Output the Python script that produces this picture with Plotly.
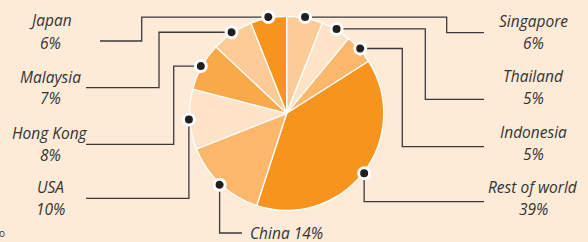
import math
import plotly.graph_objects as go

# ---- data ----
countries = ["Singapore", "Thailand", "Indonesia", "Rest of world", "China",
             "USA", "Hong Kong", "Malaysia", "Japan"]
shares = [6, 5, 5, 39, 14, 10, 8, 7, 6]

# ---- styles ----
slice_colors = ["#FDCB98", "#FEE3C8", "#FBB76C", "#F7941D", "#FBB76C",
                "#FEE3C8", "#F9A84A", "#FDCB98", "#F7941D"]
BG = "#FDEBD8"
TXT = "#333333"
LINE = "#3a3a3a"
FONT = "Open Sans"

W, H = 588, 242
CX, CY, R = 286.7, 113.3, 97.0
DOT_R = 98.0

fig = go.Figure()
fig.add_trace(go.Pie(
    labels=countries, values=shares, sort=False, direction="clockwise",
    rotation=0, textinfo="none", hoverinfo="label+percent",
    marker=dict(colors=slice_colors, line=dict(color="white", width=1.3)),
    domain=dict(x=[(CX - R) / W, (CX + R) / W],
                y=[(H - CY - R) / H, (H - CY + R) / H]),
    showlegend=False,
))

# dot positions from slice mid-angles
total = sum(shares)
dots = []
cum = 0
for v in shares:
    mid = (cum + v / 2) / total * 2 * math.pi
    dots.append((CX + DOT_R * math.sin(mid), CY - DOT_R * math.cos(mid)))
    cum += v

routes = {
    "Singapore": ("h", 446.7, 32.7, 484),
    "Thailand": ("h", 425.3, 99.3, 484),
    "Indonesia": ("h", 402.3, 146.7, 484),
    "Rest of world": ("v", None, 201.7, 484),
    "China": ("v", None, 233.0, 242),
    "USA": ("v", None, 198.3, 86),
    "Hong Kong": ("h", 173.7, 144.3, 86),
    "Malaysia": ("h", 159.0, 87.7, 86),
    "Japan": ("h", 141.7, 41.0, 100),
}

shapes = []
for name, (dx, dy) in zip(countries, dots):
    kind, ex, ey, endx = routes[name]
    if kind == "h":
        pts = [(dx, dy), (ex, dy), (ex, ey), (endx, ey)]
    else:
        pts = [(dx, dy), (dx, ey), (endx, ey)]
    path = "M " + " L ".join(f"{x:.2f},{y:.2f}" for x, y in pts)
    shapes.append(dict(type="path", path=path, xref="x", yref="y",
                       line=dict(color=LINE, width=1.3), layer="above"))
for dx, dy in dots:
    r = 5.5
    shapes.append(dict(type="circle", xref="x", yref="y",
                       x0=dx - r, x1=dx + r, y0=dy - r, y1=dy + r,
                       fillcolor="#231F20", line=dict(color="white", width=3),
                       layer="above"))

label_pos = {
    "Singapore": (533, 20.7, 42.7),
    "Thailand": (533, 76.0, 98.3),
    "Indonesia": (533, 132.3, 154.3),
    "Rest of world": (533, 186.7, 209.3),
    "USA": (50, 187.3, 209.0),
    "Hong Kong": (50, 132.7, 155.0),
    "Malaysia": (50, 76.7, 98.3),
    "Japan": (50, 20.0, 42.7),
}
annotations = []
fnt = dict(family=FONT, size=15.5, color=TXT, style="italic")
for name, v in zip(countries, shares):
    if name == "China":
        annotations.append(dict(x=286.5, y=233, xref="x", yref="y",
                                text=f"{name} {v}%", showarrow=False,
                                font=fnt, xanchor="center", yanchor="middle"))
        continue
    x, y1, y2 = label_pos[name]
    annotations.append(dict(x=x, y=y1, xref="x", yref="y", text=name,
                            showarrow=False, font=fnt,
                            xanchor="center", yanchor="middle"))
    annotations.append(dict(x=x, y=y2, xref="x", yref="y", text=f"{v}%",
                            showarrow=False, font=fnt,
                            xanchor="center", yanchor="middle"))
annotations.append(dict(x=2, y=233, xref="x", yref="y", text="o",
                        showarrow=False, font=dict(family=FONT, size=10, color=TXT),
                        xanchor="center", yanchor="middle"))

fig.update_layout(
    width=W, height=H, margin=dict(l=0, r=0, t=0, b=0),
    paper_bgcolor=BG, plot_bgcolor=BG,
    xaxis=dict(range=[0, W], visible=False, fixedrange=True),
    yaxis=dict(range=[H, 0], visible=False, fixedrange=True),
    shapes=shapes, annotations=annotations, showlegend=False,
)
fig.write_html("out.html", config={"displayModeBar": False},
               post_script="document.body.style.margin='0';document.body.style.overflow='hidden';")
